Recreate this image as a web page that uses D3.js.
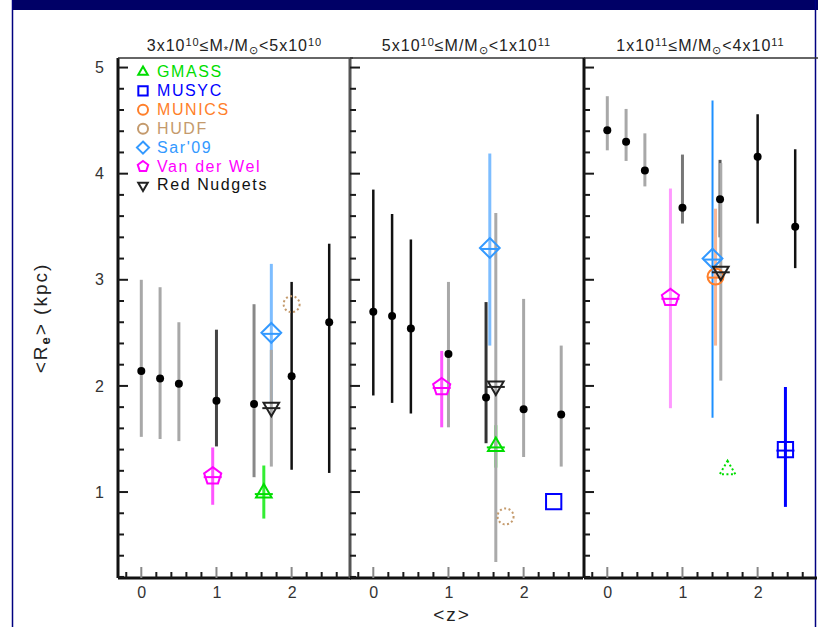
<!DOCTYPE html>
<html>
<head>
<meta charset="utf-8">
<script src="https://cdn.jsdelivr.net/npm/d3@7"></script>
<style>
  body { margin: 0; background: #fff; }
  text { font-family: "Liberation Sans", Arial, sans-serif; }
</style>
</head>
<body>
<div id="chart"></div>
<script>

// redshift bins of the local / binned sample (same in every panel)
var zBins = [0, 0.25, 0.5, 1.0, 1.5, 2.0, 2.5];

// binned mean sizes per mass panel, with lower / upper ends of the bars
var binR  = [[2.14, 2.07, 2.02, 1.86, 1.83, 2.09, 2.60],
             [2.70, 2.66, 2.54, 2.30, 1.89, 1.78, 1.73],
             [4.41, 4.30, 4.03, 3.68, 3.76, 4.16, 3.50]];
var binLo = [[1.52, 1.50, 1.48, 1.43, 1.14, 1.21, 1.18],
             [1.91, 1.84, 1.74, 1.61, 1.46, 1.33, 1.24],
             [4.22, 4.12, 3.88, 3.53, 3.40, 3.53, 3.11]];
var binHi = [[3.00, 2.93, 2.60, 2.53, 2.77, 2.98, 3.34],
             [3.85, 3.62, 3.38, 2.98, 2.79, 2.82, 2.38],
             [4.73, 4.61, 4.38, 4.18, 4.13, 4.56, 4.23]];

// other surveys, one entry per panel (null = not shown)
var surveyNames = ["GMASS", "MUSYC", "MUNICS", "HUDF", "Sar'09", "Van der Wel", "Red Nudgets"];

var gmassZ  = [1.63, 1.63, 1.60];
var gmassR  = [0.99, 1.43, 1.21];
var gmassLo = [0.75, 1.23, null];
var gmassHi = [1.25, 1.63, null];

var musycZ  = [null, 2.40, 2.37];
var musycR  = [null, 0.91, 1.40];
var musycLo = [null, null, 0.86];
var musycHi = [null, null, 1.99];

var municsZ  = [null, null, 1.44];
var municsR  = [null, null, 3.03];
var municsLo = [null, null, 2.38];
var municsHi = [null, null, 3.67];

var hudfZ  = [2.00, 1.76, null];
var hudfR  = [2.77, 0.77, null];
var hudfLo = [null, null, null];
var hudfHi = [null, null, null];

var sarZ  = [1.73, 1.55, 1.40];
var sarR  = [2.50, 3.30, 3.20];
var sarLo = [1.85, 2.38, 1.70];
var sarHi = [3.15, 4.19, 4.69];

var vdwZ  = [0.95, 0.91, 0.84];
var vdwR  = [1.15, 1.99, 2.83];
var vdwLo = [0.88, 1.61, 1.79];
var vdwHi = [1.42, 2.33, 3.86];

var nudgeZ  = [1.73, 1.63, 1.51];
var nudgeR  = [1.80, 2.00, 3.08];
var nudgeLo = [1.24, 0.34, 2.05];
var nudgeHi = [2.34, 3.63, 4.10];

var yTickLabels = [1, 2, 3, 4, 5];
var xTickLabels = [0, 1, 2];

// ---- layout / style ----
var svgWidth = 818, svgHeight = 627;
var panelLeft = [118, 350, 584];
var panelW = 233;
var plotTop = 58, plotBottom = 578;

var svg = d3.select("#chart").append("svg")
  .attr("width", svgWidth)
  .attr("height", svgHeight);

// slide frame
svg.append("rect").attr("x", 12).attr("y", 0).attr("width", svgWidth - 12).attr("height", 10).attr("fill", "#000066");
svg.append("line").attr("x1", 12.5).attr("x2", 12.5).attr("y1", 0).attr("y2", svgHeight).attr("stroke", "#000080").attr("stroke-width", 1.5);
svg.append("line").attr("x1", 815.5).attr("x2", 815.5).attr("y1", 0).attr("y2", svgHeight).attr("stroke", "#000080").attr("stroke-width", 1.5);

var yScale = d3.scaleLinear().domain([0.19, 5.09]).range([plotBottom, plotTop]);

var styles = [
  { color: "#00dd00", bar: "#33ee33", shape: "tri" },
  { color: "#0000ff", bar: "#0000ff", shape: "square" },
  { color: "#ff7f2a", bar: "#f7b797", shape: "circle" },
  { color: "#c49a6c", bar: "#c49a6c", shape: "circle", dotted: true },
  { color: "#3399ff", bar: "#7dbdff", shape: "diamond" },
  { color: "#ff00ff", bar: "#ff55ff", shape: "pent" },
  { color: "#222222", bar: "#aaaaaa", shape: "tridown" }
];
var surveys = [
  [gmassZ, gmassR, gmassLo, gmassHi],
  [musycZ, musycR, musycLo, musycHi],
  [municsZ, municsR, municsLo, municsHi],
  [hudfZ, hudfR, hudfLo, hudfHi],
  [sarZ, sarR, sarLo, sarHi],
  [vdwZ, vdwR, vdwLo, vdwHi],
  [nudgeZ, nudgeR, nudgeLo, nudgeHi]
];
// tone of the binned error bars (grey or black) per panel
var binBarColor = [
  ["#a8a8a8", "#a8a8a8", "#a8a8a8", "#444", "#888", "#111", "#111"],
  ["#111", "#111", "#111", "#a8a8a8", "#333", "#a8a8a8", "#a8a8a8"],
  ["#a8a8a8", "#a8a8a8", "#a8a8a8", "#777", "#555", "#111", "#111"]
];

function polyPath(n, r, rot) {
  var pts = d3.range(n).map(function(i) {
    var a = rot + i * 2 * Math.PI / n;
    return [r * Math.sin(a), -r * Math.cos(a)];
  });
  return "M" + pts.map(function(p) { return p[0].toFixed(2) + "," + p[1].toFixed(2); }).join("L") + "Z";
}
function symbolPath(shape, r) {
  if (shape === "tri") return polyPath(3, r, 0);
  if (shape === "tridown") return polyPath(3, r, Math.PI);
  if (shape === "square") return polyPath(4, r * 1.2, Math.PI / 4);
  if (shape === "diamond") return polyPath(4, r * 1.1, 0);
  if (shape === "pent") return polyPath(5, r, 0);
  return null;
}

var minorY = d3.range(1, 25).map(function(i) { return i * 0.2; })
  .filter(function(v) { return Math.abs(v - Math.round(v)) > 0.01; });
var minorX = d3.range(-1, 14).map(function(i) { return i * 0.2; })
  .filter(function(v) { return Math.abs(v - Math.round(v)) > 0.01; });

panelLeft.forEach(function(left, p) {
  var xScale = d3.scaleLinear().domain([-0.31, 2.79]).range([left, left + panelW]);
  var g = svg.append("g");

  // binned error bars
  zBins.forEach(function(z, i) {
    g.append("line")
      .attr("x1", xScale(z)).attr("x2", xScale(z))
      .attr("y1", yScale(binLo[p][i])).attr("y2", yScale(binHi[p][i]))
      .attr("stroke", binBarColor[p][i])
      .attr("stroke-width", binBarColor[p][i] === "#111" ? 2.5 : 3);
  });

  // survey error bars
  surveys.forEach(function(s, k) {
    if (s[0][p] === null || s[2][p] === null) return;
    g.append("line")
      .attr("x1", xScale(s[0][p])).attr("x2", xScale(s[0][p]))
      .attr("y1", yScale(s[2][p])).attr("y2", yScale(s[3][p]))
      .attr("stroke", (p === 2 && k === 4) ? "#1e90ff" : (p === 2 && k === 5) ? "#ff99ff" : styles[k].bar)
      .attr("stroke-width", (p === 2 && k === 4) ? 2 : 3);
  });

  // binned means
  g.selectAll("circle.bin").data(zBins).enter().append("circle")
    .attr("cx", function(z) { return xScale(z); })
    .attr("cy", function(z, i) { return yScale(binR[p][i]); })
    .attr("r", 4)
    .attr("fill", "#000");

  // survey symbols
  surveys.forEach(function(s, k) {
    if (s[0][p] === null) return;
    var st = styles[k];
    var dotted = st.dotted || (k === 0 && p === 2);
    var cx = xScale(s[0][p]), cy = yScale(s[1][p]);
    var r = st.shape === "circle" ? 8 : 9;
    var sg = g.append("g").attr("transform", "translate(" + cx + "," + cy + ")");
    var mark = st.shape === "circle"
      ? sg.append("circle").attr("r", r)
      : sg.append("path").attr("d", symbolPath(st.shape, r));
    mark.attr("fill", "none")
      .attr("stroke", st.color)
      .attr("stroke-width", 2)
      .attr("stroke-dasharray", dotted ? "2,2.5" : null);
    if (s[2][p] !== null) {
      sg.append("line").attr("x1", -r).attr("x2", r).attr("y1", 1).attr("y2", 1)
        .attr("stroke", st.color).attr("stroke-width", 2);
    }
  });

  // tick labels
  var yAx = g.append("g").attr("transform", "translate(" + left + ",0)")
    .call(d3.axisLeft(yScale).tickValues(yTickLabels).tickSize(0).tickPadding(14)
      .tickFormat(p === 0 ? d3.format("d") : function() { return ""; }));
  yAx.select(".domain").remove();
  yAx.selectAll("text").attr("font-size", 16).attr("fill", "#333");

  var xAx = g.append("g").attr("transform", "translate(0," + plotBottom + ")")
    .call(d3.axisBottom(xScale).tickValues(xTickLabels).tickSize(0).tickPadding(9).tickFormat(d3.format("d")));
  xAx.select(".domain").remove();
  xAx.selectAll("text").attr("font-size", 16).attr("fill", "#333");

  // frame lines
  g.append("line").attr("x1", left).attr("x2", left).attr("y1", plotTop).attr("y2", plotBottom)
    .attr("stroke", p === 1 ? "#555" : "#111").attr("stroke-width", 3);
  g.append("line").attr("x1", left).attr("x2", left + panelW).attr("y1", plotBottom).attr("y2", plotBottom)
    .attr("stroke", "#111").attr("stroke-width", 3);
  g.append("line").attr("x1", left).attr("x2", left + panelW + 2).attr("y1", plotTop).attr("y2", plotTop)
    .attr("stroke", "#333").attr("stroke-width", 1.5);

  // tick marks pointing into the panel, drawn on top of the frame
  var tg = svg.append("g");
  tg.selectAll("line").data(minorY.concat(yTickLabels)).enter().append("line")
    .attr("x1", left).attr("x2", function(v) { return left + (Number.isInteger(v) ? 10 : 6); })
    .attr("y1", function(v) { return yScale(v); }).attr("y2", function(v) { return yScale(v); })
    .attr("stroke", "#1a1a1a").attr("stroke-width", 2);

  var tx = svg.append("g");
  tx.selectAll("line").data(minorX.concat(xTickLabels)).enter().append("line")
    .attr("x1", function(v) { return xScale(v); }).attr("x2", function(v) { return xScale(v); })
    .attr("y1", plotBottom).attr("y2", function(v) { return plotBottom - (Number.isInteger(v) ? 11 : 6); })
    .attr("stroke", function(v) { return Number.isInteger(v) ? "#888" : "#1a1a1a"; })
    .attr("stroke-width", 2);
});

// panel titles
var titleParts = [
  [["3x10", 0], ["10", 1], ["\u2264M", 0], ["*", -1], ["/M", 0], ["\u2299", -1], ["<5x10", 0], ["10", 1]],
  [["5x10", 0], ["10", 1], ["\u2264M/M", 0], ["\u2299", -1], ["<1x10", 0], ["11", 1]],
  [["1x10", 0], ["11", 1], ["\u2264M/M", 0], ["\u2299", -1], ["<4x10", 0], ["11", 1]]
];
titleParts.forEach(function(parts, p) {
  var t = svg.append("text")
    .attr("x", panelLeft[p] + panelW / 2)
    .attr("y", 51)
    .attr("text-anchor", "middle")
    .attr("font-size", 16)
    .attr("letter-spacing", 1)
    .attr("fill", "#222");
  parts.forEach(function(pt) {
    t.append("tspan")
      .attr("font-size", pt[1] === 0 ? 16 : 11)
      .attr("baseline-shift", pt[1] === 1 ? "45%" : pt[1] === -1 ? "-25%" : null)
      .text(pt[0]);
  });
});

// legend
surveyNames.forEach(function(name, k) {
  var cy = 72 + k * 18.9;
  var st = styles[k];
  var lg = svg.append("g").attr("transform", "translate(143," + cy + ")");
  if (st.shape === "circle") {
    lg.append("circle").attr("r", 5).attr("fill", "none").attr("stroke", st.color).attr("stroke-width", 2);
  } else {
    lg.append("path").attr("d", symbolPath(st.shape, 5.5)).attr("fill", "none")
      .attr("stroke", st.color).attr("stroke-width", 2);
  }
  svg.append("text").attr("x", 157).attr("y", cy + 5)
    .attr("font-size", 16)
    .attr("letter-spacing", 1.6)
    .attr("fill", k === 6 ? "#111" : st.color)
    .text(name);
});

// axis titles
var yl = svg.append("text")
  .attr("transform", "translate(47,318) rotate(-90)")
  .attr("text-anchor", "middle")
  .attr("font-size", 19)
  .attr("letter-spacing", 2)
  .attr("fill", "#222");
yl.append("tspan").text("<R");
yl.append("tspan").attr("font-size", 13).attr("font-weight", "bold").attr("baseline-shift", "-25%").text("e");
yl.append("tspan").text(">  (kpc)");

svg.append("text")
  .attr("x", 452).attr("y", 621)
  .attr("text-anchor", "middle")
  .attr("font-size", 19)
  .attr("letter-spacing", 2)
  .attr("fill", "#222")
  .text("<z>");

</script>
</body>
</html>
